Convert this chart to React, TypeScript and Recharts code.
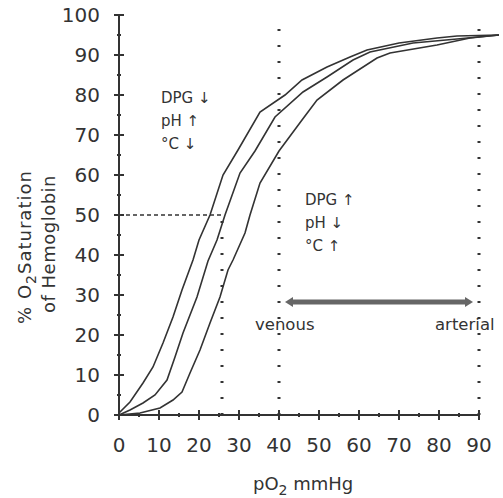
import React from "react";
import { LineChart, Line, XAxis, YAxis, ReferenceLine, ReferenceDot } from "recharts";

// Oxygen-hemoglobin dissociation curves
const leftP = [0, 2.75, 6, 8.5, 11, 13.5, 15.75, 18.5, 20, 22.75, 26, 29.75, 35.25, 41.5, 45.75, 52, 57.75, 62, 70, 79.5, 84.5, 95];
const leftS = [0.5, 3.25, 8, 12, 18, 24.5, 31.25, 38.75, 43.75, 50, 60, 66.25, 75.75, 80, 83.75, 87, 89.5, 91.25, 93, 94.25, 94.75, 95];

const midP = [0, 2.75, 6, 9, 12, 14, 16, 19.5, 22.25, 24.5, 26.5, 30.25, 34, 39, 46, 52, 58.5, 62.75, 73.5, 84.5, 95];
const midS = [0, 1.25, 3, 5, 8.75, 14.5, 20.5, 29.5, 38.5, 43.75, 50, 60.5, 66, 74.5, 80.75, 84.5, 88.75, 90.75, 93, 94, 95];

const rightP = [0, 5.25, 10.25, 13.5, 15.75, 17.75, 20.25, 22.75, 25.25, 27.25, 28.5, 31.5, 32.75, 35.25, 40, 45.75, 49.5, 56, 64.5, 67.75, 79.5, 87.75, 95];
const rightS = [0, 0.5, 1.75, 3.75, 5.75, 10.5, 16.25, 23, 29.5, 36.25, 38.75, 45.5, 50, 58, 66, 73.75, 78.75, 83.75, 89.25, 90.5, 92.5, 94.25, 95];

const xTicks = [0, 5, 10, 15, 20, 25, 30, 35, 40, 45, 50, 55, 60, 65, 70, 75, 80, 85, 90];
const yTicks = [0, 5, 10, 15, 20, 25, 30, 35, 40, 45, 50, 55, 60, 65, 70, 75, 80, 85, 90, 95, 100];

const p50 = 25.75;
const venous = 41.5;
const arterial = 88.5;
const arrowLevel = 28.25;

const toRows = (xs: number[], ys: number[]) => xs.map((p, i) => ({ p, s: ys[i] }));

const INK = "#333";
const FONT = "DejaVu Sans";

const XTick = (props: any) => {
  const { x, y, payload } = props;
  const major = payload.value % 10 === 0;
  const h = major ? 5 : 2;
  return (
    <g>
      <line x1={x} x2={x} y1={y - h} y2={y + h} stroke={INK} strokeWidth={2} />
      {major && (
        <text x={x} y={y + 37} textAnchor="middle" fontSize={20} fontFamily={FONT} fill={INK}>
          {payload.value}
        </text>
      )}
    </g>
  );
};

const YTick = (props: any) => {
  const { x, y, payload } = props;
  const major = payload.value % 10 === 0;
  const w = major ? 5 : 2;
  return (
    <g>
      <line x1={x - w} x2={x + w} y1={y} y2={y} stroke={INK} strokeWidth={2} />
      {major && (
        <text x={x - 19} y={y + 7} textAnchor="end" fontSize={20} fontFamily={FONT} fill={INK}>
          {payload.value}
        </text>
      )}
    </g>
  );
};

const Note = ({ lines, size = 15, gap = 23 }: { lines: string[]; size?: number; gap?: number }) =>
  (props: any) => (
    <text x={props.cx} y={props.cy} fontSize={size} fontFamily={FONT} fill={INK}>
      {lines.map((l, i) => (
        <tspan key={i} x={props.cx} dy={i === 0 ? 0 : gap}>
          {l}
        </tspan>
      ))}
    </text>
  );

const Arrow = (props: any) => {
  const { x1, y1, x2, y2 } = props;
  const c = "#666";
  return (
    <g>
      <line x1={x1 + 5} x2={x2 - 5} y1={y1} y2={y2} stroke={c} strokeWidth={5} />
      <polygon points={`${x1},${y1} ${x1 + 8},${y1 - 5} ${x1 + 8},${y1 + 5}`} fill={c} />
      <polygon points={`${x2},${y2} ${x2 - 8},${y2 - 5} ${x2 - 8},${y2 + 5}`} fill={c} />
    </g>
  );
};

export default function App() {
  return (
    <div style={{ width: 503, height: 498, background: "#fff" }}>
      <style>{`body{margin:0}`}</style>
      <LineChart width={503} height={498} margin={{ top: 15, right: 4, bottom: 0, left: 0 }}>
        <XAxis
          dataKey="p"
          type="number"
          domain={[0, 95]}
          ticks={xTicks}
          interval={0}
          axisLine={false}
          tickLine={false}
          tickSize={0}
          tickMargin={0}
          tick={<XTick />}
          height={83}
          label={{
            content: (p: any) => {
              const vb = p.viewBox;
              return (
                <text x={vb.x + 134} y={vb.y + 75} fontSize={18} fontFamily={FONT} fill={INK}>
                  pO<tspan dy={5} fontSize={14}>2</tspan>
                  <tspan dy={-5}> mmHg</tspan>
                </text>
              );
            },
          }}
        />
        <YAxis
          type="number"
          domain={[0, 100]}
          ticks={yTicks}
          interval={0}
          width={119}
          axisLine={{ stroke: INK, strokeWidth: 2 }}
          tickLine={false}
          tickSize={0}
          tickMargin={0}
          tick={<YTick />}
          label={{
            content: (p: any) => {
              const vb = p.viewBox;
              const cy = vb.y + vb.height / 2 + 32;
              return (
                <g fontFamily={FONT} fontSize={18} fill={INK}>
                  <text x={31} y={cy} textAnchor="middle" transform={`rotate(-90 31 ${cy})`} letterSpacing={1}>
                    % O<tspan dy={5} fontSize={14}>2</tspan>
                    <tspan dy={-5}>Saturation</tspan>
                  </text>
                  <text x={55} y={cy - 3} textAnchor="middle" transform={`rotate(-90 55 ${cy - 3})`} letterSpacing={0.5}>
                    of Hemoglobin
                  </text>
                </g>
              );
            },
          }}
        />

        {/* x axis line stops at 90 */}
        <ReferenceLine segment={[{ x: 0, y: 0 }, { x: 90, y: 0 }]} stroke={INK} strokeWidth={2} ifOverflow="visible" />

        <ReferenceLine segment={[{ x: 0, y: 50 }, { x: p50, y: 50 }]} stroke={INK} strokeWidth={1.5} strokeDasharray="4 3" />
        <ReferenceLine segment={[{ x: p50, y: 0 }, { x: p50, y: 50 }]} stroke={INK} strokeWidth={3} strokeDasharray="2 14" />
        <ReferenceLine x={40} stroke={INK} strokeWidth={3} strokeDasharray="2 14" />
        <ReferenceLine x={90} stroke={INK} strokeWidth={3} strokeDasharray="2 14" />

        <ReferenceLine segment={[{ x: venous, y: arrowLevel }, { x: arterial, y: arrowLevel }]} shape={<Arrow />} />

        <Line data={toRows(leftP, leftS)} dataKey="s" type="linear" stroke={INK} strokeWidth={1.6} dot={false} isAnimationActive={false} />
        <Line data={toRows(midP, midS)} dataKey="s" type="linear" stroke={INK} strokeWidth={1.6} dot={false} isAnimationActive={false} />
        <Line data={toRows(rightP, rightS)} dataKey="s" type="linear" stroke={INK} strokeWidth={1.6} dot={false} isAnimationActive={false} />

        <ReferenceDot x={10.5} y={78} shape={Note({ lines: ["DPG ↓", "pH ↑", "°C ↓"] })} />
        <ReferenceDot x={46.5} y={52.5} shape={Note({ lines: ["DPG ↑", "pH ↓", "°C ↑"] })} />
        <ReferenceDot x={34} y={21.25} shape={Note({ lines: ["venous"], size: 16.5 })} />
        <ReferenceDot x={79} y={21.25} shape={Note({ lines: ["arterial"], size: 16.5 })} ifOverflow="visible" />
      </LineChart>
    </div>
  );
}
